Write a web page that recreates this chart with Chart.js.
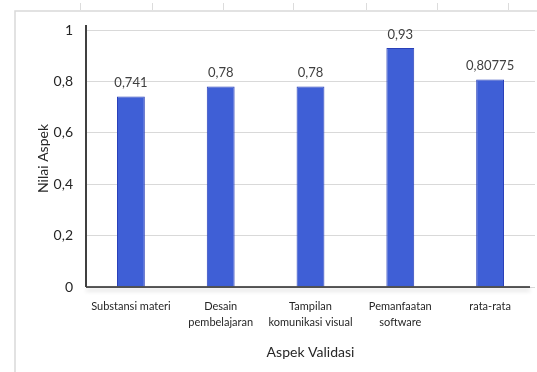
<!DOCTYPE html>
<html>
<head>
<meta charset="utf-8">
<script src="https://cdn.jsdelivr.net/npm/chart.js@4/dist/chart.umd.min.js"></script>
<style>
  html, body { margin: 0; padding: 0; background: #ffffff; }
  canvas { display: block; }
</style>
</head>
<body>
<canvas id="chart" width="537" height="372"></canvas>
<script>
// Validation scores per aspect
const categories = [
  'Substansi materi',
  ['Desain', 'pembelajaran'],
  ['Tampilan', 'komunikasi visual'],
  ['Pemanfaatan', 'software'],
  'rata-rata'
];
const values = [0.741, 0.78, 0.78, 0.93, 0.80775];
const yTicks = [0, 0.2, 0.4, 0.6, 0.8, 1];

const FONT = 'Lato, "Open Sans", sans-serif';
const fmt = v => String(v).replace('.', ',');

// Worksheet frame behind the chart
const sheetFrame = {
  id: 'sheetFrame',
  beforeDraw(chart) {
    const ctx = chart.ctx;
    ctx.save();
    ctx.strokeStyle = '#d9d9d9';
    ctx.lineWidth = 1.5;
    ctx.beginPath();
    ctx.moveTo(15, 372);
    ctx.lineTo(15, 11);
    ctx.lineTo(537, 11);
    ctx.stroke();
    ctx.lineWidth = 1;
    ctx.strokeStyle = '#dcdcdc';
    [80, 152, 223, 293, 366, 437, 508].forEach(x => {
      ctx.beginPath();
      ctx.moveTo(x + 0.5, 3);
      ctx.lineTo(x + 0.5, 10);
      ctx.stroke();
    });
    ctx.restore();
  }
};

// Axis lines drawn over the bars, with a soft shadow under the category axis
const axisLines = {
  id: 'axisLines',
  afterDatasetsDraw(chart) {
    const ctx = chart.ctx;
    const a = chart.chartArea;
    const y0 = chart.scales.y.getPixelForValue(0);
    ctx.save();
    ctx.shadowColor = 'rgba(0,0,0,0.22)';
    ctx.shadowBlur = 4;
    ctx.shadowOffsetY = 3;
    ctx.strokeStyle = '#262626';
    ctx.lineWidth = 1.5;
    ctx.beginPath();
    ctx.moveTo(a.left, y0);
    ctx.lineTo(a.right - 5, y0);
    ctx.stroke();
    ctx.restore();

    ctx.save();
    ctx.strokeStyle = '#404040';
    ctx.lineWidth = 2;
    ctx.beginPath();
    ctx.moveTo(a.left, a.top - 5);
    ctx.lineTo(a.left, y0);
    ctx.stroke();
    ctx.restore();
  }
};

// Value labels above each bar
const valueLabels = {
  id: 'valueLabels',
  afterDatasetsDraw(chart) {
    const ctx = chart.ctx;
    const meta = chart.getDatasetMeta(0);
    ctx.save();
    ctx.font = '13px ' + FONT;
    ctx.fillStyle = '#404040';
    ctx.textAlign = 'center';
    ctx.textBaseline = 'bottom';
    meta.data.forEach((bar, i) => {
      ctx.fillText(fmt(values[i]), bar.x, bar.y - 7);
    });
    ctx.restore();
  }
};

new Chart(document.getElementById('chart'), {
  type: 'bar',
  data: {
    labels: categories,
    datasets: [{
      data: values,
      backgroundColor: '#3f5fd6',
      borderColor: '#2a40b8',
      borderWidth: 1,
      barPercentage: 0.31,
      categoryPercentage: 1
    }]
  },
  options: {
    responsive: false,
    animation: false,
    devicePixelRatio: 1,
    layout: { padding: { top: 30, right: 2, left: 0, bottom: 0 } },
    plugins: {
      legend: { display: false },
      tooltip: { enabled: false }
    },
    scales: {
      x: {
        grid: { display: false, drawTicks: false },
        border: { display: false },
        ticks: {
          color: '#262626',
          font: { family: FONT, size: 11, lineHeight: 1.5 },
          padding: 11,
          maxRotation: 0,
          autoSkip: false
        },
        title: {
          display: true,
          text: 'Aspek Validasi',
          color: '#262626',
          font: { family: FONT, size: 14 },
          padding: { top: 0, bottom: 11 }
        },
        afterFit(scale) { scale.height = 85; }
      },
      y: {
        min: 0,
        max: 1,
        afterBuildTicks(scale) { scale.ticks = yTicks.map(v => ({ value: v })); },
        grid: { color: '#d9d9d9', lineWidth: 1, drawTicks: false },
        border: { display: false },
        ticks: {
          color: '#262626',
          font: { family: FONT, size: 14 },
          padding: 13,
          callback: v => fmt(v)
        },
        title: {
          display: true,
          text: 'Nilai Aspek',
          color: '#262626',
          font: { family: FONT, size: 14 },
          padding: { top: 35, bottom: 0 }
        },
        afterFit(scale) { scale.width = 86; }
      }
    }
  },
  plugins: [sheetFrame, axisLines, valueLabels]
});
</script>
</body>
</html>
